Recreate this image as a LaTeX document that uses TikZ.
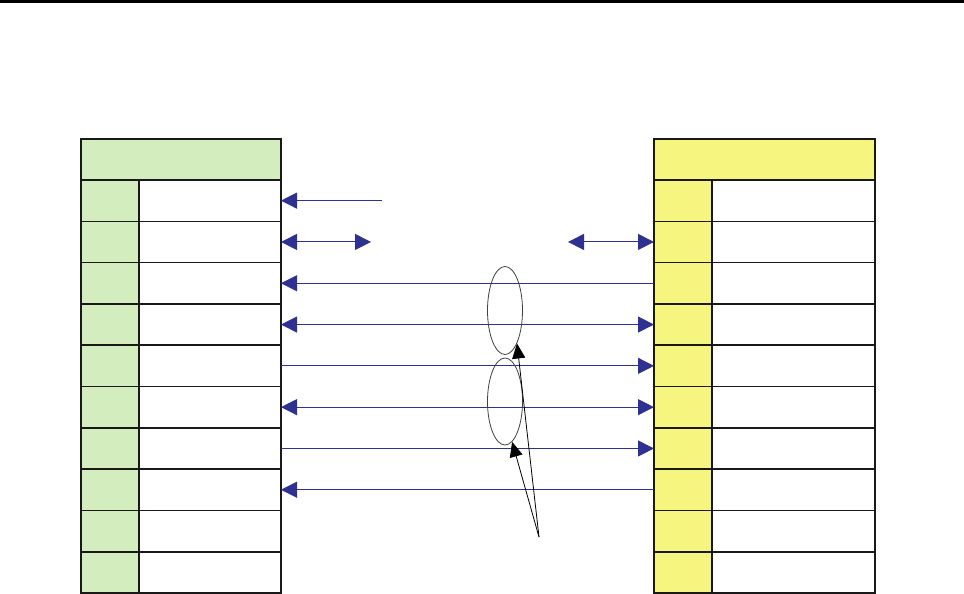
\documentclass[tikz,border=0pt]{standalone}
\usepackage{xcolor}
\usepackage{tikz}
\usetikzlibrary{arrows.meta, positioning, shapes.geometric, calc}

\definecolor{cellgreen}{RGB}{212,237,191}
\definecolor{cellyellow}{RGB}{246,245,128}
\definecolor{linkblue}{RGB}{46,49,146}

\begin{document}
\begin{tikzpicture}[
  x=1pt, y=-1pt,
  cell/.style={draw=black!90, line width=1.6pt, outer sep=0pt, inner sep=0pt, minimum height=41.3pt},
  headcell/.style={cell, minimum height=41pt},
  numcell/.style={cell, minimum width=58pt},
  link/.style={draw=linkblue, line width=1pt},
  >={Triangle[length=16pt, width=16pt]},
  group/.style={draw=black!75, line width=0.8pt, ellipse, inner sep=0pt, minimum width=35pt},
  pointer/.style={-{Triangle[length=15pt, width=13pt]}, line width=0.8pt, black}
]
  \useasboundingbox (0,0) rectangle (964,594);
  \draw[line width=3pt] (0,1.5) -- (964,1.5);

  \node[headcell, fill=cellgreen, minimum width=200pt, anchor=north west] (lhead) at (81,139) {};
  \node[headcell, fill=cellyellow, minimum width=221pt, anchor=north west] (rhead) at (654,139) {};

  \foreach \i in {1,...,10} {
    \node[numcell, fill=cellgreen, anchor=north west] (ln\i) at ($(lhead.south west)+(0,{41.3*(\i-1)})$) {};
    \node[cell, minimum width=142pt, right=0pt of ln\i] (lt\i) {};
    \node[numcell, fill=cellyellow, anchor=north west] (rn\i) at ($(rhead.south west)+(0,{41.3*(\i-1)})$) {};
    \node[cell, minimum width=163pt, right=0pt of rn\i] (rt\i) {};
  }

  \coordinate (p1) at ($(lt1.east)+(101,0)$);
  \coordinate (p2a) at ($(lt2.east)+(90,0)$);
  \coordinate (p2b) at ($(rn2.west)+(-86,0)$);

  \draw[link, <-] (lt1.east) -- (p1);
  \draw[link, <->] (lt2.east) -- (p2a);
  \draw[link, <->] (p2b) -- (rn2.west);
  \draw[link, <-] (lt3.east) -- (rn3.west);
  \draw[link, <->] (lt4.east) -- (rn4.west);
  \draw[link, ->] (lt5.east) -- (rn5.west);
  \draw[link, <->] (lt6.east) -- (rn6.west);
  \draw[link, ->] (lt7.east) -- (rn7.west);
  \draw[link, <-] (lt8.east) -- (rn8.west);

  \node[group, minimum height=88pt] (grpA) at (505,310.5) {};
  \node[group, minimum height=87pt] (grpB) at (505,401.5) {};

  \coordinate (src) at (539,537);
  \draw[pointer] (src) -- (grpA.-70);
  \draw[pointer] (src) -- (grpB.-80);
\end{tikzpicture}
\end{document}
